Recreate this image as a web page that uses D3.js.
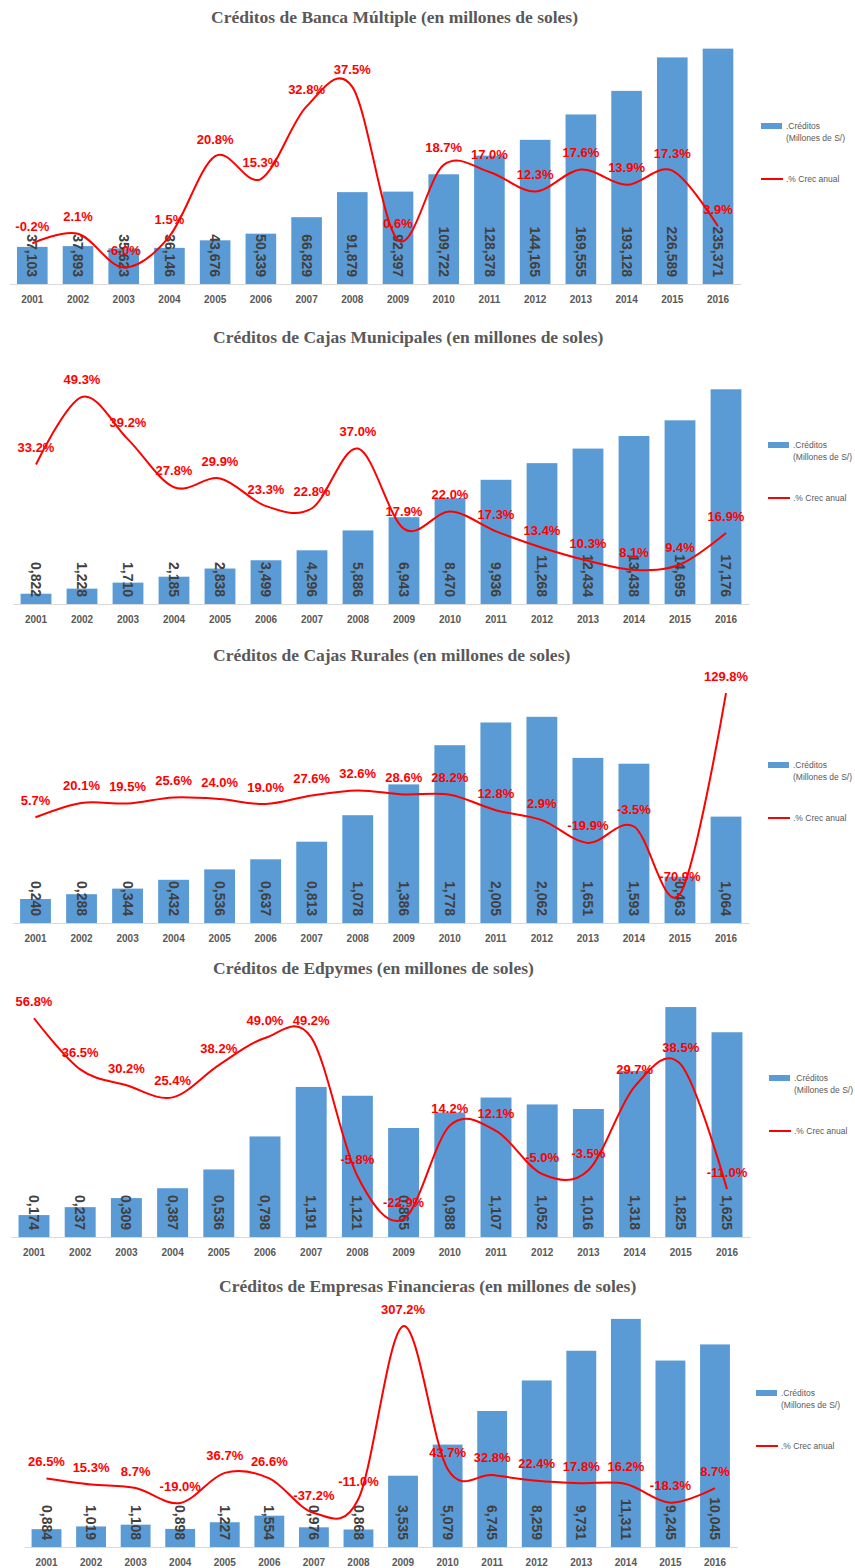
<!DOCTYPE html>
<html>
<head>
<meta charset="utf-8">
<script src="https://cdn.jsdelivr.net/npm/d3@7"></script>
<style>
  html, body { margin: 0; padding: 0; background: #ffffff; }
  svg { display: block; }
</style>
</head>
<body>
<svg id="chart" width="855" height="1568"></svg>
<script>
// ---------- DATA ----------
const years = ["2001","2002","2003","2004","2005","2006","2007","2008","2009","2010","2011","2012","2013","2014","2015","2016"];

const titles = [
  "Créditos de Banca Múltiple (en millones de soles)",
  "Créditos de Cajas Municipales (en millones de soles)",
  "Créditos de Cajas Rurales (en millones de soles)",
  "Créditos de Edpymes (en millones de soles)",
  "Créditos de Empresas Financieras (en millones de soles)"
];

const bancaCreditos = [37103, 37893, 35623, 36146, 43676, 50339, 66829, 91879, 92397, 109722, 128378, 144165, 169555, 193128, 226589, 235371];
const bancaCrec     = [-0.2, 2.1, -6.0, 1.5, 20.8, 15.3, 32.8, 37.5, 0.6, 18.7, 17.0, 12.3, 17.6, 13.9, 17.3, 3.9];

const municipalesCreditos = [822, 1228, 1710, 2185, 2838, 3499, 4296, 5886, 6943, 8470, 9936, 11268, 12434, 13438, 14695, 17176];
const municipalesCrec     = [33.2, 49.3, 39.2, 27.8, 29.9, 23.3, 22.8, 37.0, 17.9, 22.0, 17.3, 13.4, 10.3, 8.1, 9.4, 16.9];

const ruralesCreditos = [240, 288, 344, 432, 536, 637, 813, 1078, 1386, 1778, 2005, 2062, 1651, 1593, 463, 1064];
const ruralesCrec     = [5.7, 20.1, 19.5, 25.6, 24.0, 19.0, 27.6, 32.6, 28.6, 28.2, 12.8, 2.9, -19.9, -3.5, -70.9, 129.8];

const edpymesCreditos = [174, 237, 309, 387, 536, 798, 1191, 1121, 865, 988, 1107, 1052, 1016, 1318, 1825, 1625];
const edpymesCrec     = [56.8, 36.5, 30.2, 25.4, 38.2, 49.0, 49.2, -5.8, -22.9, 14.2, 12.1, -5.0, -3.5, 29.7, 38.5, -11.0];

const financierasCreditos = [884, 1019, 1108, 898, 1227, 1554, 976, 868, 3535, 5079, 6745, 8259, 9731, 11311, 9245, 10045];
const financierasCrec     = [26.5, 15.3, 8.7, -19.0, 36.7, 26.6, -37.2, -11.0, 307.2, 43.7, 32.8, 22.4, 17.8, 16.2, -18.3, 8.7];

const legendCreditos = [".Créditos", "(Millones de S/)"];
const legendCrec = ".% Crec anual";

// ---------- LAYOUT (per panel) ----------
const panels = [
  { creditos: bancaCreditos, crec: bancaCrec, first: 32.3, last: 718, base: 284, barMax: 250000, barTop: 34, pMin: -10, pMax: 50, pTop: 35, tx: 211, ty: 23, lx: 761, ly: 126 },
  { creditos: municipalesCreditos, crec: municipalesCrec, first: 36, last: 726, base: 604, barMax: 20000, barTop: 354, pMin: 0, pMax: 60, pTop: 352, tx: 213, ty: 343, lx: 768, ly: 445 },
  { creditos: ruralesCreditos, crec: ruralesCrec, first: 35.5, last: 726, base: 923, barMax: 2500, barTop: 673, pMin: -100, pMax: 150, pTop: 673, tx: 213, ty: 661, lx: 768, ly: 765 },
  { creditos: edpymesCreditos, crec: edpymesCrec, first: 34, last: 727, base: 1237, barMax: 2000, barTop: 985, pMin: -30, pMax: 70, pTop: 985, tx: 213, ty: 974, lx: 769, ly: 1078 },
  { creditos: financierasCreditos, crec: financierasCrec, first: 46.5, last: 715, base: 1547, barMax: 12000, barTop: 1305, pMin: -100, pMax: 350, pTop: 1303, tx: 219, ty: 1292, lx: 756, ly: 1393 }
];

const BAR_COLOR = "#5b9bd5";
const LINE_COLOR = "#ff0000";
const GRAY = "#595959";

function fmtCred(v) {
  const th = Math.floor(v / 1000);
  const rest = String(v % 1000).padStart(3, "0");
  return th + "," + rest;
}
function fmtPct(v) {
  return (v < 0 ? "-" : "") + Math.abs(v).toFixed(1) + "%";
}

const svg = d3.select("#chart");

panels.forEach((p, i) => {
  const g = svg.append("g");
  const step = (p.last - p.first) / (years.length - 1);
  const x = d3.scaleBand()
    .domain(years)
    .range([p.first - step / 2, p.last + step / 2])
    .paddingInner(0.33)
    .paddingOuter(0.165);
  const y = d3.scaleLinear().domain([0, p.barMax]).range([p.base, p.barTop]);
  const y2 = d3.scaleLinear().domain([p.pMin, p.pMax]).range([p.base, p.pTop]);

  // title
  g.append("text")
    .attr("x", p.tx).attr("y", p.ty)
    .attr("font-family", "'Liberation Serif', 'Times New Roman', serif")
    .attr("font-weight", "bold")
    .attr("font-size", "17.5px")
    .attr("fill", GRAY)
    .text(titles[i]);

  // bars
  g.selectAll("rect.bar").data(p.creditos).enter().append("rect")
    .attr("class", "bar")
    .attr("x", (d, j) => x(years[j]))
    .attr("y", d => y(d))
    .attr("width", x.bandwidth())
    .attr("height", d => p.base - y(d))
    .attr("fill", BAR_COLOR);

  // axis
  const axis = g.append("g")
    .attr("transform", `translate(0,${p.base})`)
    .call(d3.axisBottom(x).tickSizeInner(0).tickSizeOuter(0).tickPadding(12));
  axis.select(".domain").attr("stroke", "#d9d9d9").attr("stroke-width", 1.2);
  axis.selectAll("text")
    .attr("font-family", "'Liberation Sans', Arial, sans-serif")
    .attr("font-weight", "bold")
    .attr("font-size", "10px")
    .attr("fill", GRAY);

  // bar value labels (rotated)
  g.selectAll("text.val").data(p.creditos).enter().append("text")
    .attr("class", "val")
    .attr("transform", (d, j) => `translate(${x(years[j]) + x.bandwidth() / 2},${p.base - 7}) rotate(90)`)
    .attr("text-anchor", "end")
    .attr("dy", "0.35em")
    .attr("font-family", "'Liberation Sans', Arial, sans-serif")
    .attr("font-weight", "bold")
    .attr("font-size", "14px")
    .attr("fill", "#404040")
    .text(d => fmtCred(d));

  // smooth line
  const line = d3.line()
    .x((d, j) => x(years[j]) + x.bandwidth() / 2)
    .y(d => y2(d))
    .curve(d3.curveCardinal.tension(0));
  g.append("path")
    .datum(p.crec)
    .attr("d", line)
    .attr("fill", "none")
    .attr("stroke", LINE_COLOR)
    .attr("stroke-width", 2);

  // pct labels
  g.selectAll("text.pct").data(p.crec).enter().append("text")
    .attr("class", "pct")
    .attr("x", (d, j) => x(years[j]) + x.bandwidth() / 2)
    .attr("y", d => y2(d) - 12.5)
    .attr("text-anchor", "middle")
    .attr("font-family", "'Liberation Sans', Arial, sans-serif")
    .attr("font-weight", "bold")
    .attr("font-size", "13px")
    .attr("fill", LINE_COLOR)
    .text(d => fmtPct(d));

  // legend
  const lg = g.append("g").attr("font-family", "'Liberation Sans', Arial, sans-serif").attr("font-size", "8.5px").attr("fill", GRAY);
  lg.append("rect").attr("x", p.lx).attr("y", p.ly - 3).attr("width", 21).attr("height", 6).attr("fill", BAR_COLOR);
  lg.append("text").attr("x", p.lx + 25).attr("y", p.ly + 3).text(legendCreditos[0]);
  lg.append("text").attr("x", p.lx + 25).attr("y", p.ly + 15).text(legendCreditos[1]);
  lg.append("line").attr("x1", p.lx).attr("x2", p.lx + 22).attr("y1", p.ly + 53).attr("y2", p.ly + 53)
    .attr("stroke", LINE_COLOR).attr("stroke-width", 2);
  lg.append("text").attr("x", p.lx + 25).attr("y", p.ly + 56).text(legendCrec);
});
</script>
</body>
</html>
